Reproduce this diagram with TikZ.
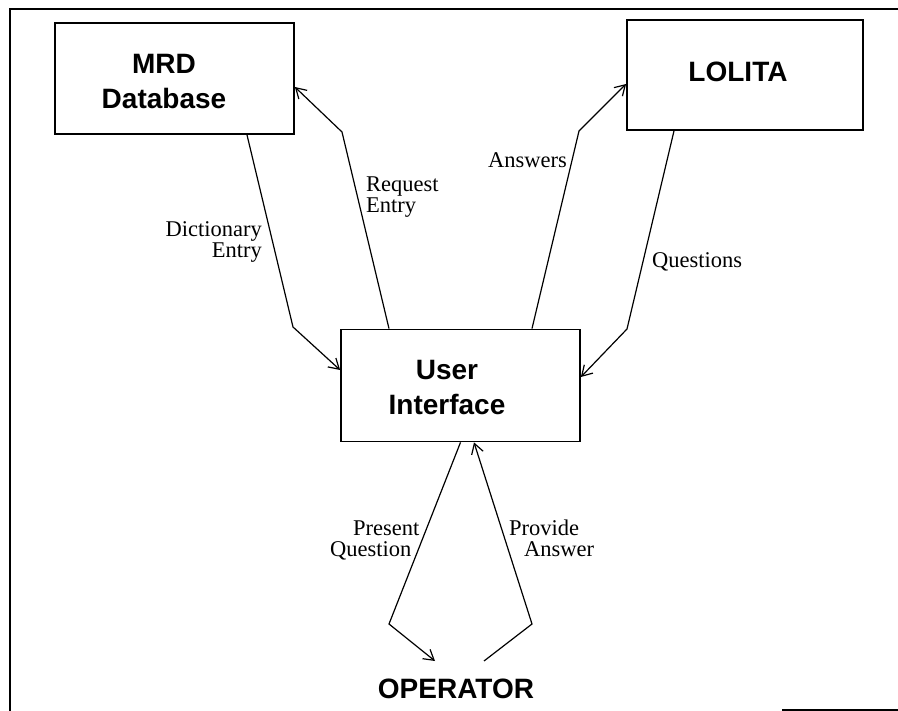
\documentclass[tikz,border=0pt]{standalone}
\usepackage{fontspec}
\setmainfont{Liberation Serif}
\setsansfont{Liberation Sans}
\usetikzlibrary{arrows.meta}

% fonts: bold sans for the boxes, serif for the flow labels
\newcommand\boxfont{\sffamily\bfseries\fontsize{28}{35}\selectfont\lineskiplimit=-40pt}
\newcommand\lblfont{\rmfamily\fontsize{22.5}{21}\selectfont\lineskiplimit=-40pt}

\begin{document}
\begin{tikzpicture}[x=1pt,y=-1pt,
  box/.style={draw,line width=1.8pt,inner sep=0pt},
  title/.style={font=\boxfont,align=center,inner sep=0pt,anchor=base},
  lbl/.style={font=\lblfont,inner sep=0pt,anchor=base},
  flow/.style={line width=1.2pt,line join=miter,
    -{Straight Barb[length=10pt,width=12pt,line width=1.2pt]}},
  frame/.style={line width=1.5pt}]

\useasboundingbox (0,0) rectangle (898,711);

% outer frame
\coordinate (ftr) at (898,9);
\coordinate (ftl) at (10,9);
\coordinate (fbl) at (10,711);
\coordinate (fb1) at (782,710);
\coordinate (fb2) at (898,710);
\draw[frame] (ftr) -- (ftl) -- (fbl);
\draw[frame] (fb1) -- (fb2);

% boxes
\node[box,minimum width=239pt,minimum height=111pt] (mrd) at (174.5,78.5) {};
\node[box,minimum width=236pt,minimum height=110pt] (lolita) at (745,75) {};
\node[box,minimum width=239pt,minimum height=112pt] (ui) at (460.5,385.5) {};

% box titles (base anchor = baseline of the last line)
\node[title] (mrdtext) at (164,109) {MRD\\Database};
\node[title] (lolitatext) at (738,82) {LOLITA};
\node[title] (uitext) at (447,415) {User\\Interface};
\node[title] (operator) at (456,698) {OPERATOR};

% bend points and free ends
\coordinate (b1) at (293,327);
\coordinate (b2) at (342,132);
\coordinate (b3) at (579,131);
\coordinate (b4) at (627,329);
\coordinate (b5) at (389,624);
\coordinate (b6) at (532,624);
\coordinate (opin) at (435,661);
\coordinate (opout) at (484,661);

% flows
\draw[flow] ([xshift=72.5pt]mrd.south) -- (b1) -- ([yshift=15.5pt]ui.west);
\draw[flow] ([xshift=-71.5pt]ui.north) -- (b2) -- ([yshift=-8.5pt]mrd.east);
\draw[flow] ([xshift=71.5pt]ui.north) -- (b3) -- ([yshift=-9pt]lolita.west);
\draw[flow] ([xshift=-71pt]lolita.south) -- (b4) -- ([yshift=8.5pt]ui.east);
\draw[flow] (ui.south) -- (b5) -- (opin);
\draw[flow] (opout) -- (b6) -- ([xshift=13.5pt]ui.south);

% flow labels
\node[lbl,align=right,anchor=base east] (ldict) at (262,258) {Dictionary\\Entry};
\node[lbl,align=left,anchor=base west] (lreq) at (366,213) {Request\\Entry};
\node[lbl,anchor=base east] (lans) at (567,168) {Answers};
\node[lbl,anchor=base west] (lques) at (652,268) {Questions};
\node[lbl,align=left,anchor=base west] (lpres) at (330,557) {\hspace*{23pt}Present\\Question};
\node[lbl,align=left,anchor=base west] (lprov) at (509,557) {Provide\\\hspace*{15pt}Answer};
\end{tikzpicture}
\end{document}
